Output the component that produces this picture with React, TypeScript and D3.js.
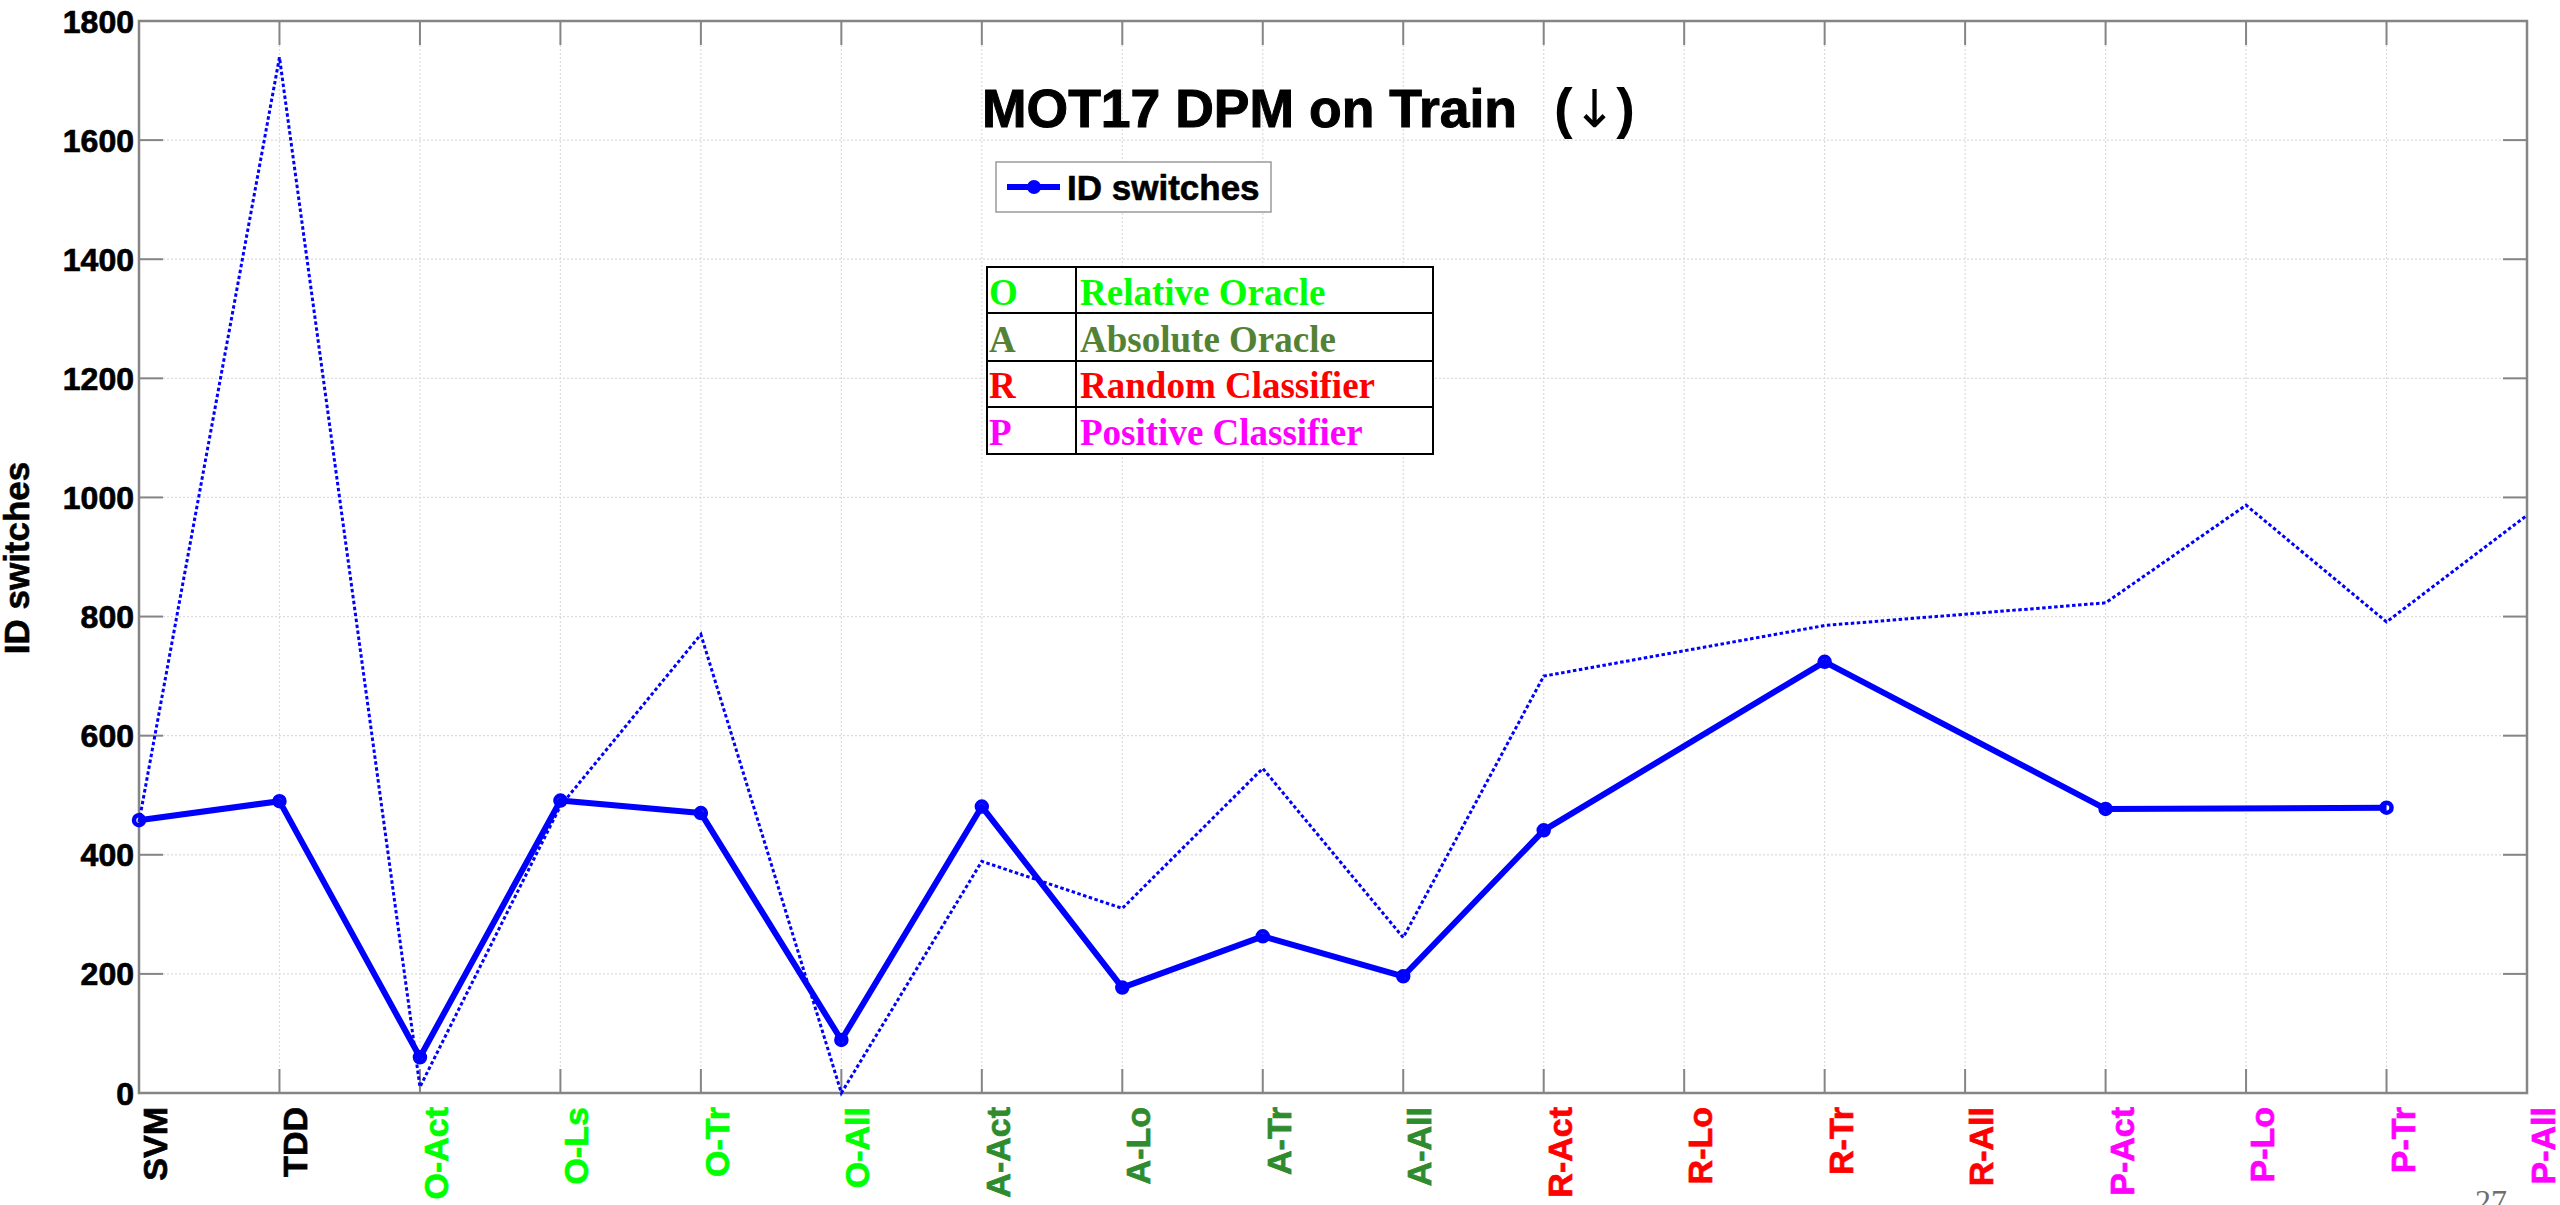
import React, { useEffect } from "react";
import * as d3 from "d3";

const categories = ["SVM","TDD","O-Act","O-Ls","O-Tr","O-All","A-Act","A-Lo","A-Tr","A-All","R-Act","R-Lo","R-Tr","R-All","P-Act","P-Lo","P-Tr","P-All"];
const categoryColors = ["#000000","#000000","#00ff00","#00ff00","#00ff00","#00ff00","#2e8b2e","#2e8b2e","#2e8b2e","#2e8b2e","#ff0000","#ff0000","#ff0000","#ff0000","#ff00ff","#ff00ff","#ff00ff","#ff00ff"];
// main series (thick solid, circle markers)
const idSwitches: (number | null)[] = [458, 490, 60, 491, 470, 89, 481, 177, 263, 196, 441, null, 724, null, 477, null, 479, null];
// secondary series (thin dotted)
const idSwitchesRef: (number | null)[] = [455, 1739, 10, 482, 770, 0, 389, 310, 545, 261, 700, null, 785, null, 823, 987, 791, 970];
const yTicks = [0, 200, 400, 600, 800, 1000, 1200, 1400, 1600, 1800];
const tableLetters = ["O", "A", "R", "P"];
const tableNames = ["Relative Oracle", "Absolute Oracle", "Random Classifier", "Positive Classifier"];
const tableColors = ["#00ff00", "#548235", "#ff0000", "#ff00ff"];

const SANS = "'Liberation Sans', Arial, Helvetica, sans-serif";
const SERIF = "'Liberation Serif', 'Times New Roman', serif";

export default function App() {
  useEffect(() => {
    document.body.style.margin = "0";
  }, []);
  const W = 2560, H = 1205;
  const left = 139, right = 2527, top = 21, bottom = 1093;
  const x = d3.scalePoint<string>().domain(categories).range([left, right]);
  const y = d3.scaleLinear().domain([0, 1800]).range([bottom, top]);
  const blue = "#0000ff";
  const axisColor = "#858585";
  const tickLen = 24;

  const solidPts = categories
    .map((c, i) => ({ c, v: idSwitches[i] }))
    .filter((d) => d.v !== null) as { c: string; v: number }[];
  const dotPts = categories
    .map((c, i) => ({ c, v: idSwitchesRef[i] }))
    .filter((d) => d.v !== null) as { c: string; v: number }[];
  const line = d3
    .line<{ c: string; v: number }>()
    .x((d) => x(d.c) as number)
    .y((d) => y(d.v));

  const rowTop = [267, 313, 361, 407, 454];
  const rowBase = [305, 352, 398, 445];

  return (
    <svg width={W} height={H} style={{ position: "absolute", left: 0, top: 0, background: "#fff" }}>
      <rect x={0} y={0} width={W} height={H} fill="#fff" />
      {/* grid */}
      <g stroke="#dcdcdc" strokeWidth={1.2} strokeDasharray="2 2">
        {categories.map((c, i) =>
          i > 0 && i < categories.length - 1 ? (
            <line key={"gx" + c} x1={x(c)} x2={x(c)} y1={top} y2={bottom} />
          ) : null
        )}
        {yTicks.map((t) =>
          t > 0 && t < 1800 ? <line key={"gy" + t} x1={left} x2={right} y1={y(t)} y2={y(t)} /> : null
        )}
      </g>
      {/* ticks */}
      <g stroke={axisColor} strokeWidth={2}>
        {categories.map((c) => (
          <g key={"tx" + c}>
            <line x1={x(c)} x2={x(c)} y1={bottom} y2={bottom - tickLen} />
            <line x1={x(c)} x2={x(c)} y1={top} y2={top + tickLen} />
          </g>
        ))}
        {yTicks.map((t) => (
          <g key={"ty" + t}>
            <line x1={left} x2={left + tickLen} y1={y(t)} y2={y(t)} />
            <line x1={right} x2={right - tickLen} y1={y(t)} y2={y(t)} />
          </g>
        ))}
      </g>
      {/* axes box */}
      <rect x={left} y={top} width={right - left} height={bottom - top} fill="none" stroke={axisColor} strokeWidth={2.5} />

      {/* dotted series */}
      <path d={line(dotPts) || ""} fill="none" stroke={blue} strokeWidth={3} strokeDasharray="3.5 2.5" />
      {/* solid series */}
      <path d={line(solidPts) || ""} fill="none" stroke={blue} strokeWidth={6} strokeLinejoin="round" />
      {solidPts.map((d) => (
        <circle key={"m" + d.c} cx={x(d.c)} cy={y(d.v)} r={5} fill="none" stroke={blue} strokeWidth={4.5} />
      ))}

      {/* y tick labels */}
      {yTicks.map((t) => (
        <text key={"yl" + t} x={134} y={y(t)} dy="0.36em" textAnchor="end" fontFamily={SANS} fontWeight="bold" fontSize={32} fill="#000" stroke="#000" strokeWidth={0.7}>
          {t}
        </text>
      ))}
      {/* x tick labels */}
      {categories.map((c, i) => (
        <text
          key={"xl" + c}
          transform={`translate(${(x(c) as number) + 28},1107) rotate(-90)`}
          textAnchor="end"
          fontFamily={SANS}
          fontWeight="bold"
          fontSize={34}
          fill={categoryColors[i]}
          stroke={categoryColors[i]}
          strokeWidth={0.7}
        >
          {c}
        </text>
      ))}
      {/* y axis title */}
      <text transform="translate(29,558) rotate(-90)" textAnchor="middle" fontFamily={SANS} fontWeight="bold" fontSize={35} fill="#000" stroke="#000" strokeWidth={0.6}>
        ID switches
      </text>

      {/* title */}
      <text x={982} y={127} fontFamily={SANS} fontWeight="bold" fontSize={53.5} fill="#000" stroke="#000" strokeWidth={1}>
        MOT17 DPM on Train
      </text>
      <text x={1554} y={127} fontFamily={SANS} fontWeight="bold" fontSize={56} fill="#000">
        (<tspan fontFamily="'DejaVu Sans', sans-serif" fontWeight="normal" fontSize={52}>↓</tspan>)
      </text>

      {/* legend */}
      <rect x={996} y={162} width={275} height={50} fill="#fff" stroke="#9a9a9a" strokeWidth={1.5} />
      <line x1={1007} x2={1060} y1={187} y2={187} stroke={blue} strokeWidth={6} />
      <circle cx={1034} cy={187} r={7} fill={blue} />
      <text x={1067} y={200} fontFamily={SANS} fontWeight="bold" fontSize={35} fill="#000" stroke="#000" strokeWidth={0.6}>
        ID switches
      </text>

      {/* table */}
      <g>
        <rect x={987} y={rowTop[0]} width={446} height={rowTop[4] - rowTop[0]} fill="#fff" stroke="#000" strokeWidth={2} />
        {rowTop.slice(1, 4).map((r) => (
          <line key={"rl" + r} x1={987} x2={1433} y1={r} y2={r} stroke="#000" strokeWidth={2} />
        ))}
        <line x1={1076} x2={1076} y1={rowTop[0]} y2={rowTop[4]} stroke="#000" strokeWidth={2} />
        {tableLetters.map((l, i) => (
          <g key={"tr" + l}>
            <text x={989} y={rowBase[i]} fontFamily={SERIF} fontWeight="bold" fontSize={37} fill={tableColors[i]}>
              {l}
            </text>
            <text x={1080} y={rowBase[i]} fontFamily={SERIF} fontWeight="bold" fontSize={37} fill={tableColors[i]}>
              {tableNames[i]}
            </text>
          </g>
        ))}
      </g>

      {/* page number */}
      <text x={2475} y={1212} fontFamily={SERIF} fontSize={32} fill="#6e6e6e">
        27
      </text>
    </svg>
  );
}
